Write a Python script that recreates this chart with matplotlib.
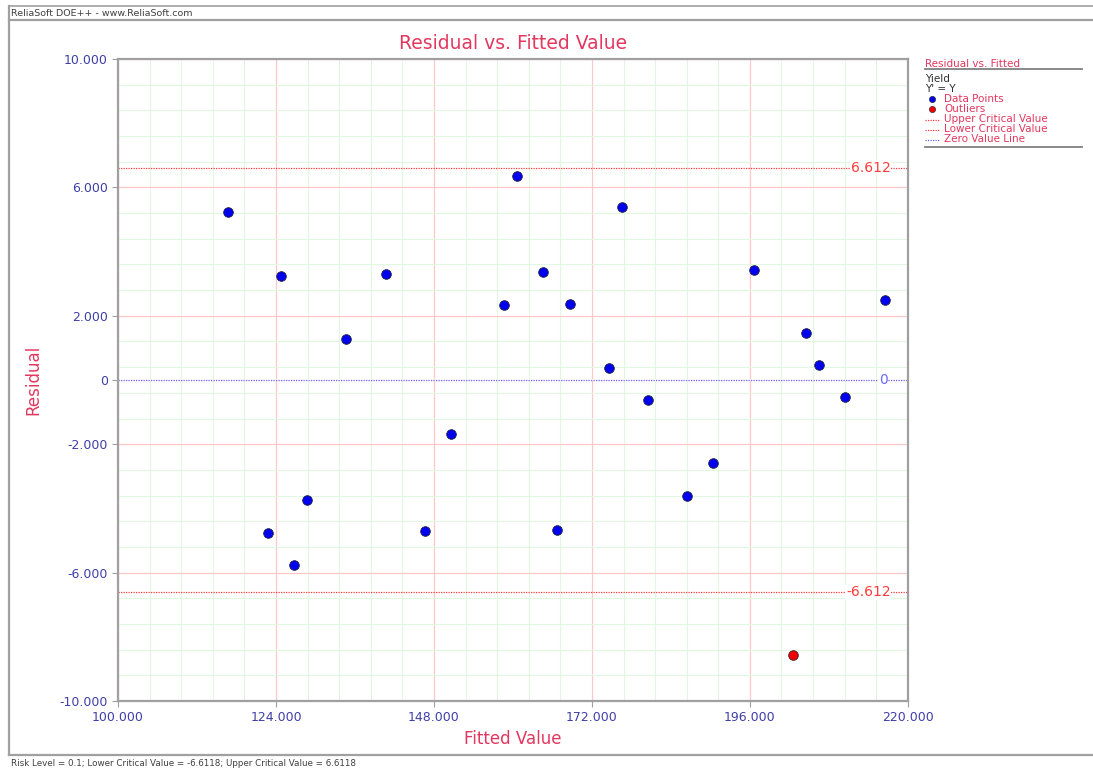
import matplotlib.pyplot as plt
import numpy as np
from matplotlib.ticker import FixedLocator, FuncFormatter
from matplotlib.lines import Line2D

# fitted values and residuals of the yield model
fitted = [116.7, 122.8, 124.8, 126.7, 128.7, 134.6, 140.7, 146.6, 150.6, 158.6,
          160.6, 164.6, 166.7, 168.6, 174.6, 176.6, 180.5, 186.4, 190.4, 196.6,
          204.5, 206.5, 210.5, 216.5]
residual = [5.23, -4.77, 3.24, -5.76, -3.74, 1.28, 3.30, -4.70, -1.68, 2.34,
            6.36, 3.36, -4.67, 2.37, 0.37, 5.39, -0.62, -3.61, -2.59, 3.43,
            1.46, 0.47, -0.53, 2.49]
outlier_fitted = [202.5]
outlier_residual = [-8.57]

risk_level = 0.1
upper_cv = 6.6118
lower_cv = -6.6118

x_ticks = [100, 124, 148, 172, 196, 220]
y_ticks = [-10, -6, -2, 0, 2, 6, 10]

RED_TXT = "#e3375e"
TICK_TXT = "#3f3fa8"
GRAY = "#a0a0a0"


def minor_positions(start, stop, step, majors):
    # minor grid steps that do not sit on a major grid line
    pos = np.round(np.arange(start, stop + step / 2, step), 6)
    return [p for p in pos if not np.any(np.isclose(p, majors))]


fig = plt.figure(figsize=(10.93, 7.73), dpi=100)
ax = fig.add_axes([0.1080, 0.0931, 0.7226, 0.8306])

ax.set_xlim(100, 220)
ax.set_ylim(-10, 10)
ax.xaxis.set_major_locator(FixedLocator(x_ticks))
ax.xaxis.set_minor_locator(FixedLocator(minor_positions(100, 220, 4.8, x_ticks)))
ax.yaxis.set_major_locator(FixedLocator(y_ticks))
ax.yaxis.set_minor_locator(FixedLocator(minor_positions(-10, 10, 0.8, y_ticks)))
fmt = FuncFormatter(lambda v, p: "0" if abs(v) < 1e-9 else f"{v:.3f}")
ax.xaxis.set_major_formatter(fmt)
ax.yaxis.set_major_formatter(fmt)

ax.grid(which="minor", color="#e0f8e0", linewidth=0.8)
ax.grid(which="major", color="#ffc8c8", linewidth=0.9)
ax.set_axisbelow(True)

ax.tick_params(which="major", length=4, color=GRAY, labelsize=9, labelcolor=TICK_TXT)
ax.tick_params(which="minor", length=0)
for sp in ax.spines.values():
    sp.set_color(GRAY)
    sp.set_linewidth(1.6)

# critical value and zero lines
ax.axhline(upper_cv, color="#ff3a3a", linestyle=(0, (1, 1)), linewidth=0.9)
ax.axhline(lower_cv, color="#ff3a3a", linestyle=(0, (1, 1)), linewidth=0.9)
ax.axhline(0, color="white", linewidth=1.2, zorder=1.5)
ax.axhline(0, color="#6a6aff", linestyle=(0, (1, 1)), linewidth=0.9, zorder=2)
box = dict(facecolor="white", edgecolor="none", pad=0.5)
ax.text(217.4, upper_cv, f"{upper_cv:.3f}", color="#ff3a3a", fontsize=10,
        ha="right", va="center", bbox=box)
ax.text(217.4, lower_cv, f"{lower_cv:.3f}", color="#ff3a3a", fontsize=10,
        ha="right", va="center", bbox=box)
ax.text(216.9, 0, "0", color="#6a6aff", fontsize=10, ha="right", va="center", bbox=box)

ax.scatter(fitted, residual, s=48, color="#0000f0", edgecolors="#202040",
           linewidths=0.6, zorder=3)
ax.scatter(outlier_fitted, outlier_residual, s=48, color="#f00000",
           edgecolors="#402020", linewidths=0.6, zorder=3)

ax.set_title("Residual vs. Fitted Value", color=RED_TXT, fontsize=13.5, pad=7)
ax.set_xlabel("Fitted Value", color=RED_TXT, fontsize=12, labelpad=4)
ax.set_ylabel("Residual", color=RED_TXT, fontsize=12, labelpad=12)

# frame, header, footer and legend drawn in pixel coordinates
deco = fig.add_axes([0, 0, 1, 1], facecolor="none")
deco.set_xlim(0, 1093)
deco.set_ylim(773, 0)
deco.axis("off")

deco.add_line(Line2D([9, 1093], [6, 6], color=GRAY, linewidth=1.2))
deco.add_line(Line2D([9, 1093], [20, 20], color=GRAY, linewidth=1.6))
deco.add_line(Line2D([9, 9], [6, 755], color=GRAY, linewidth=1.6))
deco.add_line(Line2D([9, 1093], [755, 755], color=GRAY, linewidth=1.6))
deco.text(11, 13.5, "ReliaSoft DOE++ - www.ReliaSoft.com", fontsize=6.8,
          color="#404040", va="center", ha="left")
deco.text(11, 763, f"Risk Level = {risk_level}; Lower Critical Value = {lower_cv}; "
          f"Upper Critical Value = {upper_cv}", fontsize=6.3, color="#404040",
          va="center", ha="left")

lx = 925
deco.text(lx, 64, "Residual vs. Fitted", fontsize=7.5, color=RED_TXT, va="center")
deco.add_line(Line2D([lx, 1082], [69, 69], color="#808080", linewidth=1.3))
deco.text(lx, 79, "Yield", fontsize=7.5, color="#303030", va="center")
deco.text(lx, 89, "Y' = Y", fontsize=7.5, color="#303030", va="center")
entries = [
    ("Data Points", "o", "#0000f0", None),
    ("Outliers", "o", "#f00000", None),
    ("Upper Critical Value", None, "#ff3a3a", (0, (1, 1))),
    ("Lower Critical Value", None, "#ff3a3a", (0, (1, 1))),
    ("Zero Value Line", None, "#6a6aff", (0, (1, 1))),
]
for i, (label, marker, color, ls) in enumerate(entries):
    y = 99 + 10 * i
    if marker:
        deco.plot([932], [y], marker=marker, color=color, markersize=4.5,
                  markeredgecolor="#202020", markeredgewidth=0.4)
    else:
        deco.add_line(Line2D([lx, 939], [y + 1, y + 1], color=color,
                             linestyle=ls, linewidth=0.9))
    deco.text(944, y + 0.5, label, fontsize=7.5, color=RED_TXT, va="center")
deco.add_line(Line2D([lx, 1082], [147, 147], color="#808080", linewidth=1.3))

fig.savefig("out.png", dpi=100)
